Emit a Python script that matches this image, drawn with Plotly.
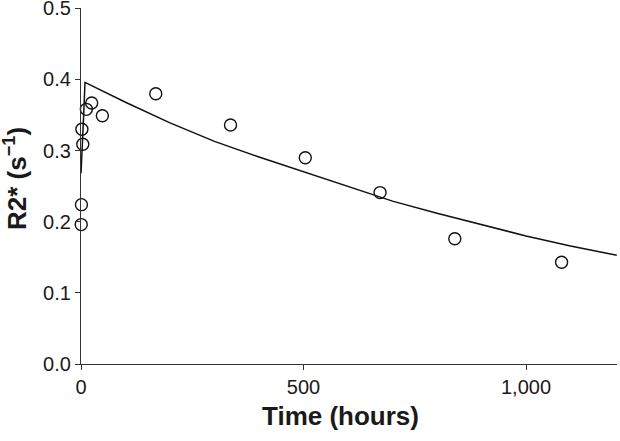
import plotly.graph_objects as go

# Measured data points (hours, R2* in s^-1)
time_h = [0.5, 1, 2, 4, 12, 24, 48, 168, 336, 504, 672, 840, 1080]
r2_obs = [0.196, 0.224, 0.330, 0.309, 0.358, 0.367, 0.349, 0.380, 0.336, 0.290, 0.241, 0.176, 0.143]

# Fitted curve
fit_t = [0, 3, 6, 9, 100, 200, 300, 400, 500, 600, 700, 800, 900, 1000, 1100, 1204]
fit_y = [0.268, 0.300, 0.350, 0.396, 0.368, 0.339, 0.313, 0.291, 0.270, 0.250, 0.229, 0.212, 0.196, 0.180, 0.166, 0.153]

x_ticks = [0, 500, 1000]
y_ticks = [0.0, 0.1, 0.2, 0.3, 0.4, 0.5]

fig = go.Figure()
fig.add_trace(go.Scatter(
    x=fit_t, y=fit_y, mode="lines",
    line=dict(color="#111111", width=1.5),
    cliponaxis=False, showlegend=False, hoverinfo="skip"))
fig.add_trace(go.Scatter(
    x=time_h, y=r2_obs, mode="markers",
    marker=dict(symbol="circle-open", size=12, color="#111111", line=dict(width=1.4)),
    cliponaxis=False, showlegend=False))

font_family = "Liberation Sans, Arial, Helvetica, sans-serif"

fig.update_layout(
    width=620, height=441,
    margin=dict(l=81, r=3, t=8, b=77, autoexpand=False),
    plot_bgcolor="white", paper_bgcolor="white",
    font=dict(family=font_family, size=20, color="#1a1a1a"),
    xaxis=dict(range=[0, 1204.5], tickvals=x_ticks, tickformat=",d",
               showline=True, linecolor="#333333", linewidth=1.3,
               ticks="outside", ticklen=5, tickwidth=1.2, tickcolor="#333333",
               showgrid=False, zeroline=False, automargin=False,
               ticklabeloverflow="allow", tickfont=dict(size=20)),
    yaxis=dict(range=[0, 0.5005], tickvals=y_ticks, tickformat=".1f",
               showline=True, linecolor="#333333", linewidth=1.3,
               ticks="outside", ticklen=5, tickwidth=1.2, tickcolor="#333333",
               showgrid=False, zeroline=False, automargin=False,
               ticklabeloverflow="allow", tickfont=dict(size=20)),
    annotations=[
        dict(text="<b>Time (hours)</b>", xref="paper", yref="paper",
             x=0.485, y=-0.146, xanchor="center", yanchor="middle",
             showarrow=False, font=dict(size=26, family=font_family, color="#1a1a1a")),
        dict(text="<b>R2* (s<sup>−1</sup>)</b>", xref="paper", yref="paper",
             x=-0.121, y=0.52, xanchor="center", yanchor="middle", textangle=-90,
             showarrow=False, font=dict(size=26, family=font_family, color="#1a1a1a")),
    ],
)

fig.write_html("out.html", config={"displayModeBar": False},
               post_script="document.body.style.margin='0';")
